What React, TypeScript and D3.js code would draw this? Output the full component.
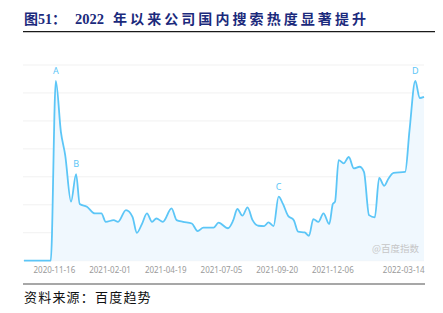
import React from "react";
import * as d3 from "d3";

const dates: string[] = [
  "2020-10-05","2020-11-11","2020-11-18","2020-11-25","2020-12-01","2020-12-09","2020-12-16","2020-12-21","2020-12-31",
  "2021-01-11","2021-01-20","2021-01-26","2021-02-06","2021-02-12","2021-02-23","2021-03-04","2021-03-10","2021-03-17",
  "2021-03-24","2021-03-31","2021-04-06","2021-04-15","2021-04-27","2021-05-04","2021-05-13","2021-05-25","2021-06-02",
  "2021-06-10","2021-06-24","2021-07-01","2021-07-14","2021-07-21","2021-07-27","2021-08-03","2021-08-10","2021-08-17",
  "2021-08-25","2021-09-02","2021-09-08","2021-09-15","2021-09-22","2021-09-28","2021-10-05","2021-10-13","2021-10-19",
  "2021-10-28","2021-11-03","2021-11-09","2021-11-16","2021-11-23","2021-12-01","2021-12-06","2021-12-09","2021-12-14",
  "2021-12-21","2021-12-28","2022-01-04","2022-01-12","2022-01-18","2022-01-25","2022-02-02","2022-02-08","2022-02-15",
  "2022-02-21","2022-02-28","2022-03-16","2022-03-22","2022-03-30","2022-04-05","2022-04-11",
];
const values: number[] = [
  0, 0, 6.43, 4.61, 3.77, 2.11, 3.1, 2.03, 1.93,
  1.69, 1.69, 1.39, 1.45, 1.39, 1.81, 1.57, 1.0, 1.31,
  1.69, 1.39, 1.51, 1.39, 1.87, 1.45, 1.39, 1.33, 1.06,
  1.18, 1.18, 1.36, 1.16, 1.43, 1.85, 1.61, 1.91, 1.45,
  1.25, 1.24, 1.37, 1.24, 2.29, 2.03, 1.61, 1.45, 1.04,
  1.01, 0.89, 1.49, 1.39, 1.69, 1.31, 2.03, 2.11, 3.6,
  3.48, 3.71, 3.3, 3.36, 3.18, 1.63, 1.55, 2.96, 2.68,
  2.94, 3.14, 3.18, 4.67, 6.43, 5.82, 5.86,
];
const tickLabels: string[] = ["2020-11-16","2021-02-01","2021-04-19","2021-07-05","2021-09-20","2021-12-06","2022-03-14"];
const annoLabels: string[] = ["A","B","C","D"];
const annoDates: string[] = ["2020-11-18","2020-12-16","2021-09-22","2022-03-30"];
const gridValues: number[] = [0, 1, 2, 3, 4, 5, 6, 7];

const title1 = "图51：";
const title2 = "2022";
const title3 = "年以来公司国内搜索热度显著提升";
const sourceText = "资料来源：百度趋势";
const watermark = "@百度指数";

const parse = d3.utcParse("%Y-%m-%d");

export default function App() {
  const data = dates.map((d, i) => ({ date: parse(d) as Date, value: values[i] }));
  const x = d3.scaleUtc().domain([data[0].date, data[data.length - 1].date]).range([24, 424]);
  const y = d3.scaleLinear().domain([0, 7]).range([260.7, 65]);
  const line = d3.line<{ date: Date; value: number }>().x(d => x(d.date)).y(d => y(d.value)).curve(d3.curveMonotoneX);
  const area = d3.area<{ date: Date; value: number }>().x(d => x(d.date)).y0(y(0)).y1(d => y(d.value)).curve(d3.curveMonotoneX);

  return (
    <svg width={443} height={313} style={{ position: "absolute", left: 0, top: 0, background: "#fff" }}>
      <text y={24} fill="#1b2a7c" fontWeight={700} fontFamily="'Liberation Serif','Noto Sans CJK SC',serif" fontSize={14}>
        <tspan x={24}>{title1}</tspan>
        <tspan x={75} fontSize={14.5}>{title2}</tspan>
        <tspan x={113} textLength={253} lengthAdjust="spacing">{title3}</tspan>
      </text>
      <line x1={23} x2={435} y1={31.7} y2={31.7} stroke="#1a1a1a" strokeWidth={1.2} />

      {gridValues.map(g => (
        <line key={g} x1={23} x2={424} y1={y(g)} y2={y(g)} stroke="#f1f1f1" strokeWidth={1} />
      ))}
      <path d={area(data) || ""} fill="#f0f8fe" />
      <path d={line(data) || ""} fill="none" stroke="#5cc6f7" strokeWidth={1.8} />
      {annoLabels.map((l, i) => {
        const dt = parse(annoDates[i]) as Date;
        const v = values[dates.indexOf(annoDates[i])];
        return (
          <text key={l} x={x(dt)} y={y(v) - 7} textAnchor="middle" fontSize={9} fill="#5cc6f7" fontFamily="'Noto Sans',sans-serif">{l}</text>
        );
      })}
      <text x={419} y={252} textAnchor="end" fontSize={9.5} fill="#c6c6c6" fontFamily="'Noto Sans CJK SC',sans-serif">{watermark}</text>
      {tickLabels.map(t => (
        <text key={t} x={x(parse(t) as Date)} y={273} textAnchor="middle" fontSize={8} fill="#9a9a9a" fontFamily="'Noto Sans',sans-serif">{t}</text>
      ))}

      <line x1={23} x2={425} y1={284} y2={284} stroke="#8a8a8a" strokeWidth={1.6} />
      <text x={24} y={302} fontSize={13} fill="#111" letterSpacing={1.2} fontFamily="'Noto Sans CJK SC',serif">{sourceText}</text>
    </svg>
  );
}
